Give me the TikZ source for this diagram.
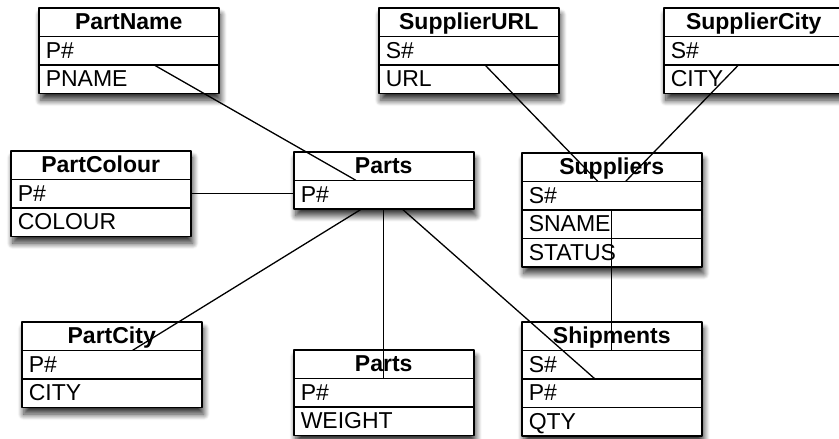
\documentclass[tikz,border=0pt]{standalone}
\usepackage{fontspec}
\setmainfont{Liberation Sans}
\usetikzlibrary{shapes.multipart,shadows.blur,calc}
\newcommand{\rw}{\rule[-6pt]{0pt}{27pt}}
\newcommand{\hd}[1]{\makebox[\hsize]{\rw\bfseries #1}}
\begin{document}
\begin{tikzpicture}[x=1pt,y=-1pt,line join=round,line cap=round,font=\fontsize{23}{28}\selectfont,
  tbl/.style={rectangle split,rectangle split parts=#1,draw,line width=1.5pt,fill=white,
    anchor=north west,inner xsep=7pt,inner ysep=0pt,text width=166pt,align=left,
    blur shadow={shadow xshift=2pt,shadow yshift=-7pt,shadow blur radius=6pt,shadow blur steps=12,shadow opacity=80}},
  lnk/.style={line width=1.3pt}]
\useasboundingbox (0,0) rectangle (839,439);
\node[tbl=3] (partname) at (38,7) {\hd{PartName}\nodepart{two}P\#\rw\nodepart{three}PNAME\rw};
\node[tbl=3] (supplierurl) at (378,7) {\hd{SupplierURL}\nodepart{two}S\#\rw\nodepart{three}URL\rw};
\node[tbl=3] (suppliercity) at (663,7) {\hd{SupplierCity}\nodepart{two}S\#\rw\nodepart{three}CITY\rw};
\node[tbl=3] (partcolour) at (10,150) {\hd{PartColour}\nodepart{two}P\#\rw\nodepart{three}COLOUR\rw};
\node[tbl=2] (parts) at (293,151) {\hd{Parts}\nodepart{two}P\#\rw};
\node[tbl=4] (suppliers) at (521,152) {\hd{Suppliers}\nodepart{two}S\#\rw\nodepart{three}SNAME\rw\nodepart{four}STATUS\rw};
\node[tbl=3] (partcity) at (21,321) {\hd{PartCity}\nodepart{two}P\#\rw\nodepart{three}CITY\rw};
\node[tbl=3] (weight) at (293,349) {\hd{Parts}\nodepart{two}P\#\rw\nodepart{three}WEIGHT\rw};
\node[tbl=4] (shipments) at (521,321) {\hd{Shipments}\nodepart{two}S\#\rw\nodepart{three}P\#\rw\nodepart{four}QTY\rw};
% links between the tables
\coordinate (pc) at ($(partcolour.one split east)!.5!(partcolour.two split east)$);
\draw[lnk] ($(partname.two split)+(25,0)$) -- ($(parts.one split)+(-28,0)$);
\draw[lnk] ($(supplierurl.two split)+(16,0)$) -- ($(suppliers.one split)+(-14,0)$);
\draw[lnk] ($(suppliercity.two split)+(-15,0)$) -- ($(suppliers.one split)+(14,0)$);
\draw[lnk] (pc) -- (pc -| parts.west);
\draw[lnk] ($(parts.south)+(-23,0)$) -- ($(partcity.one split)+(21,0)$);
\draw[lnk] (parts.south) -- (weight.one split);
\draw[lnk] ($(parts.south)+(19,0)$) -- ($(shipments.two split)+(-17,0)$);
\draw[lnk] (suppliers.two split) -- (shipments.one split);
\end{tikzpicture}
\end{document}
